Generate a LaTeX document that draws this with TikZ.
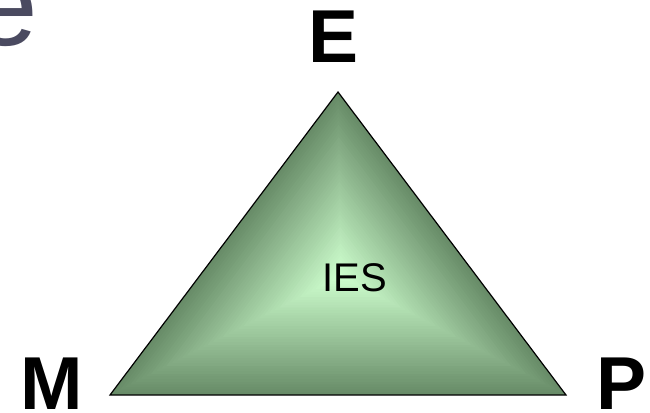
\documentclass[tikz,border=0pt]{standalone}
\usepackage{fontspec}
\setmainfont{Liberation Sans}
\usepackage{xcolor}
\usepackage{tikz}
\usetikzlibrary{calc}
\definecolor{VerdeOscuro}{RGB}{104,140,104}
\definecolor{VerdeClaro}{RGB}{206,255,206}
\definecolor{GrisTitulo}{RGB}{74,74,96}

\begin{document}
\begin{tikzpicture}[x=1pt,y=-1pt,
    vertice/.style={font=\fontsize{75}{80}\selectfont\bfseries,anchor=base,inner sep=0pt},
    centro/.style={font=\fontsize{40}{44}\selectfont,anchor=base}]
  \useasboundingbox (0,0) rectangle (650,412);

  % trozo del titulo
  \node[font=\fontsize{118}{118}\selectfont,text=GrisTitulo,anchor=base east,inner sep=0pt] (titulo) at (38,46) {e};

  \coordinate (A) at (338,92);
  \coordinate (B) at (110,395);
  \coordinate (D) at (566,395);
  \coordinate (C) at (341,276);

  \foreach \k in {0,...,44}{
    \pgfmathsetmacro\f{1-\k/45}
    \pgfmathtruncatemacro\p{100*\k/44}
    \fill[VerdeClaro!\p!VerdeOscuro] ($(C)!\f!(A)$) -- ($(C)!\f!(B)$) -- ($(C)!\f!(D)$) -- cycle;
  }
  \draw[line width=1.2pt,line join=miter] (A) -- (B) -- (D) -- cycle;

  \node[vertice] (E) at (334,63) {E};
  \node[vertice] (M) at (52,409) {M};
  \node[vertice] (P) at (622,409) {P};
  \node[centro] (IES) at (355,291) {IES};
\end{tikzpicture}
\end{document}
